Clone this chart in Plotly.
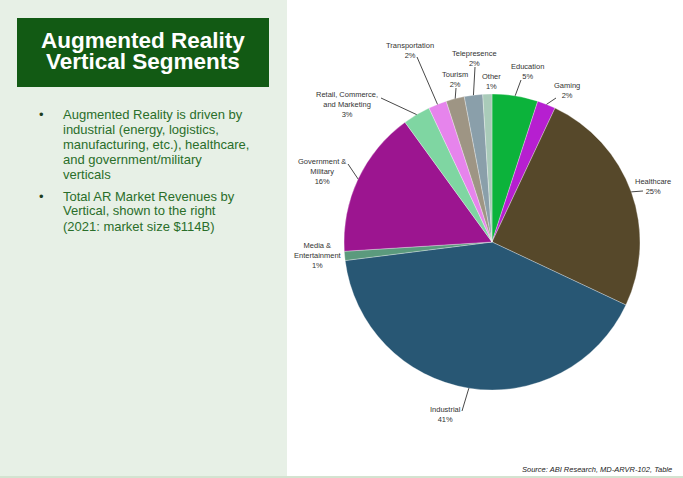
import math
import plotly.graph_objects as go

# ---- data ----
segments = ["Education", "Gaming", "Healthcare", "Industrial", "Media &<br>Entertainment",
            "Government &<br>Military", "Retail, Commerce,<br>and Marketing", "Transportation",
            "Tourism", "Telepresence", "Other"]
shares = [5, 2, 25, 41, 1, 16, 3, 2, 2, 2, 1]
colors = ["#0cb33b", "#b61fd0", "#56482a", "#285774", "#5b9a7d", "#9c1590",
          "#7fd6a2", "#e684ec", "#9e9584", "#8a9faa", "#a9cbb9"]

title_lines = ["Augmented Reality", "Vertical Segments"]
bullet1 = ["Augmented Reality is driven by", "industrial (energy, logistics,",
           "manufacturing, etc.), healthcare,", "and government/military", "verticals"]
bullet2 = ["Total AR Market Revenues by", "Vertical, shown to the right",
           "(2021: market size $114B)"]
source_text = "Source: ABI Research, MD-ARVR-102, Table"

# ---- layout constants (pixels) ----
W, H = 683, 478
CX, CY, R = 492, 242, 148

# label placement: text centre and leader-line end (None = no line)
label_pos = [(527, 72), (567, 90), (653, 186), (445, 414), (318, 255),
             (322, 172), (347, 104), (410, 51), (455, 79), (474, 58), (491, 82)]
line_end = [(521, 80), (556, 98), (643, 191), (462, 411), None,
            (348, 164), (381, 98), (417, 57), (456, 88), (475, 67), None]


def px(x):
    return x / W


def py(y):
    return 1 - y / H


fig = go.Figure()
fig.add_trace(go.Pie(
    labels=[s.replace("<br>", " ") for s in segments],
    values=shares,
    sort=False,
    direction="clockwise",
    rotation=0,
    textinfo="none",
    hoverinfo="label+percent",
    marker=dict(colors=colors, line=dict(color="rgba(255,255,255,0.5)", width=0.6)),
    domain=dict(x=[px(CX - R), px(CX + R)], y=[py(CY + R), py(CY - R)]),
    showlegend=False,
))

shapes = [
    dict(type="rect", xref="paper", yref="paper", x0=0, x1=px(287), y0=py(476), y1=1,
         fillcolor="#e7f0e6", line=dict(width=0), layer="below"),
    dict(type="rect", xref="paper", yref="paper", x0=0, x1=1, y0=0, y1=py(476),
         fillcolor="#d3e3d0", line=dict(width=0), layer="below"),
    dict(type="rect", xref="paper", yref="paper", x0=px(17), x1=px(269), y0=py(87), y1=py(18),
         fillcolor="#125a14", line=dict(width=0), layer="below"),
]

annotations = []
total = sum(shares)
cum = 0
for seg, v, lp, le in zip(segments, shares, label_pos, line_end):
    theta = math.radians((cum + v / 2) / total * 360)
    cum += v
    ex, ey = CX + R * math.sin(theta), CY - R * math.cos(theta)
    if le is not None:
        shapes.append(dict(type="line", xref="paper", yref="paper",
                           x0=px(ex), y0=py(ey), x1=px(le[0]), y1=py(le[1]),
                           line=dict(color="#333333", width=0.9)))
    annotations.append(dict(x=px(lp[0]), y=py(lp[1]), xref="paper", yref="paper",
                            text=f"{seg}<br>{v}%", showarrow=False,
                            xanchor="center", yanchor="middle",
                            font=dict(family="Arial, Liberation Sans", size=7.5, color="#333333")))

for i, t in enumerate(title_lines):
    annotations.append(dict(x=px(143), y=py(40 + 21.5 * i), xref="paper", yref="paper",
                            text=f"<b>{t}</b>", showarrow=False, xanchor="center", yanchor="middle",
                            font=dict(family="Arial, Liberation Sans", size=22.5, color="white")))

TEXT_GREEN = "#2a6e2a"
y0 = 114
for j, block in enumerate([bullet1, bullet2]):
    annotations.append(dict(x=px(37), y=py(y0), xref="paper", yref="paper", text="•",
                            showarrow=False, xanchor="left", yanchor="middle",
                            font=dict(family="Arial, Liberation Sans", size=13, color="#1e3e1e")))
    for k, line in enumerate(block):
        annotations.append(dict(x=px(61), y=py(y0 + 15 * k), xref="paper", yref="paper",
                                text=line, showarrow=False, xanchor="left", yanchor="middle",
                                font=dict(family="Arial, Liberation Sans", size=13, color=TEXT_GREEN)))
    y0 = y0 + 15 * len(block) + 7

annotations.append(dict(x=px(674), y=py(469), xref="paper", yref="paper",
                        text=f"<i>{source_text}</i>", showarrow=False,
                        xanchor="right", yanchor="middle",
                        font=dict(family="Arial, Liberation Sans", size=7.5, color="#222222")))

fig.update_layout(
    width=W, height=H,
    margin=dict(l=0, r=0, t=0, b=0),
    paper_bgcolor="white",
    plot_bgcolor="white",
    shapes=shapes,
    annotations=annotations,
)

fig.write_html("out.html", config={"displayModeBar": False},
               post_script="document.body.style.margin='0px';document.body.style.overflow='hidden';")
